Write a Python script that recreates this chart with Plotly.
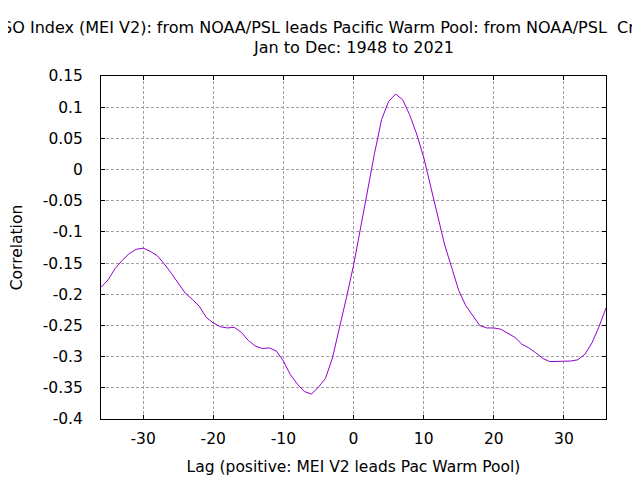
import plotly.graph_objects as go

# lag in months, correlation
lags = list(range(-36, 37))
corr = [
    -0.189, -0.177, -0.159, -0.146, -0.135, -0.128, -0.126, -0.131, -0.138, -0.151,
    -0.166, -0.182, -0.198, -0.208, -0.219, -0.237, -0.246, -0.252, -0.254, -0.253,
    -0.261, -0.274, -0.283, -0.287, -0.286, -0.291, -0.307, -0.329, -0.344, -0.356,
    -0.360, -0.349, -0.335, -0.302, -0.256, -0.205, -0.154, -0.092, -0.033, 0.026,
    0.080, 0.109, 0.121, 0.112, 0.088, 0.057, 0.020, -0.027, -0.078, -0.121,
    -0.157, -0.194, -0.218, -0.235, -0.250, -0.254, -0.254, -0.256, -0.262, -0.269,
    -0.280, -0.286, -0.294, -0.303, -0.308, -0.308, -0.307, -0.307, -0.305, -0.296,
    -0.278, -0.252, -0.222,
]

x_ticks = [-30, -20, -10, 0, 10, 20, 30]
x_labels = ["-30", "-20", "-10", "0", "10", "20", "30"]
y_ticks = [0.15, 0.1, 0.05, 0, -0.05, -0.1, -0.15, -0.2, -0.25, -0.3, -0.35, -0.4]
y_labels = ["0.15", "0.1", "0.05", "0", "-0.05", "-0.1", "-0.15", "-0.2", "-0.25", "-0.3", "-0.35", "-0.4"]

title_line1 = "ENSO Index (MEI V2): from NOAA/PSL leads Pacific Warm Pool: from NOAA/PSL  Cross correlation"
title_line2 = "Jan to Dec: 1948 to 2021"

FONT = "DejaVu Sans"

# the page body adds an 8px margin, so the figure is 632x472 and sits at (8, 8)
W, H = 632, 472
L, R, T, B = 93, 34, 68, 61
plot_w = W - L - R
plot_h = H - T - B

fig = go.Figure()
fig.add_trace(go.Scatter(
    x=lags, y=corr, mode="lines",
    line=dict(color="#9400d3", width=1),
    showlegend=False,
))

axis_common = dict(
    showline=True, linecolor="black", linewidth=1, mirror="allticks",
    ticks="inside", ticklen=4, tickcolor="black",
    showgrid=True, gridcolor="#a0a0a0", griddash="3px,2px", gridwidth=1,
    zeroline=False, automargin=False,
    tickfont=dict(family=FONT, size=15.5, color="black"),
)

# two title lines; the first one is wider than the page and runs off both sides
fig.add_annotation(text=title_line1, xref="paper", yref="paper",
                   x=(-30 - L) / plot_w, xanchor="left",
                   y=(H - B - 20) / plot_h, yanchor="middle",
                   showarrow=False, font=dict(family=FONT, size=16, color="black"))
fig.add_annotation(text=title_line2, xref="paper", yref="paper",
                   x=0.5, xanchor="center",
                   y=(H - B - 39) / plot_h, yanchor="middle",
                   showarrow=False, font=dict(family=FONT, size=16, color="black"))

fig.update_layout(
    template="none",
    width=W, height=H,
    margin=dict(l=L, r=R, t=T, b=B),
    paper_bgcolor="white", plot_bgcolor="white",
    font=dict(family=FONT, size=16, color="black"),
    xaxis=dict(range=[-36, 36], tickvals=x_ticks, ticktext=x_labels,
               ticklabelstandoff=5,
               title=dict(text="Lag (positive: MEI V2 leads Pac Warm Pool)", standoff=14,
                          font=dict(family=FONT, size=15.5, color="black")),
               **axis_common),
    yaxis=dict(range=[-0.4, 0.15], tickvals=y_ticks, ticktext=y_labels,
               ticklabelstandoff=14,
               title=dict(text="Correlation", standoff=18,
                          font=dict(family=FONT, size=15.5, color="black")),
               **axis_common),
)

fig.write_html("out.html")
